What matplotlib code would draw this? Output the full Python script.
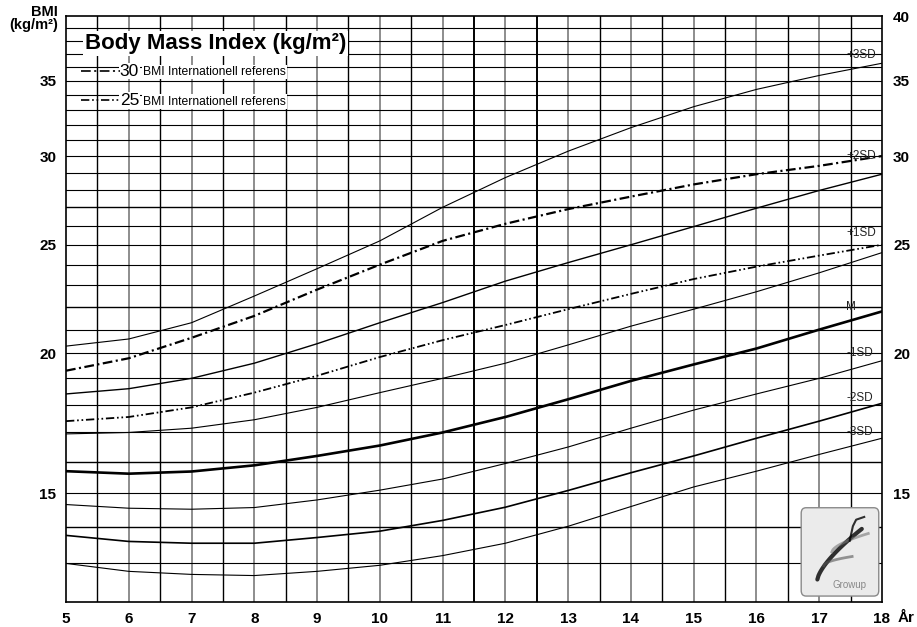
import numpy as np
import matplotlib
matplotlib.use("Agg")
import matplotlib.pyplot as plt
from matplotlib.patches import FancyBboxPatch
from matplotlib.ticker import NullLocator, FixedLocator, FixedFormatter

plt.rcParams['font.family'] = ['Liberation Sans', 'DejaVu Sans']
plt.rcParams['lines.scale_dashes'] = False

# ages (years)
ages = [5, 6, 7, 8, 9, 10, 11, 12, 13, 14, 15, 16, 17, 18]

# BMI reference curves
sd_p3 = [20.3, 20.6, 21.3, 22.5, 23.8, 25.2, 27.0, 28.7, 30.3, 31.8, 33.2, 34.4, 35.4, 36.3]
sd_p2 = [18.4, 18.6, 19.0, 19.6, 20.4, 21.3, 22.2, 23.2, 24.1, 25.0, 25.95, 26.95, 27.95, 28.9]
sd_p1 = [16.95, 17.0, 17.15, 17.45, 17.9, 18.45, 19.0, 19.6, 20.35, 21.15, 21.9, 22.7, 23.6, 24.6]
median = [15.7, 15.62, 15.69, 15.89, 16.2, 16.55, 17.0, 17.55, 18.2, 18.9, 19.55, 20.2, 21.0, 21.8]
sd_m1 = [14.66, 14.55, 14.52, 14.57, 14.8, 15.1, 15.45, 15.95, 16.5, 17.15, 17.8, 18.4, 19.0, 19.7]
sd_m2 = [13.76, 13.59, 13.54, 13.54, 13.7, 13.88, 14.19, 14.58, 15.09, 15.65, 16.2, 16.8, 17.4, 18.05]
sd_m3 = [12.99, 12.78, 12.70, 12.67, 12.78, 12.94, 13.2, 13.54, 14.02, 14.6, 15.2, 15.7, 16.25, 16.8]

# international cut-offs (BMI 30 and 25 at 18 years)
iotf_30 = [19.3, 19.8, 20.65, 21.6, 22.8, 24.0, 25.2, 26.1, 26.9, 27.6, 28.3, 28.9, 29.4, 30.0]
iotf_25 = [17.4, 17.55, 17.9, 18.45, 19.1, 19.85, 20.55, 21.2, 21.9, 22.6, 23.3, 23.9, 24.45, 25.0]

sd_labels = ['+3SD', '+2SD', '+1SD', 'M', '-1SD', '-2SD', '-3SD']
sd_label_y = [36.9, 30.0, 25.6, 22.0, 20.0, 18.25, 17.0]

left_ticks = [15, 20, 25, 30, 35]
right_ticks = [15, 20, 25, 30, 35, 40]
x_ticks = list(range(5, 19))

fig = plt.figure(figsize=(9.17, 6.27), dpi=100)
ax = fig.add_axes([66 / 917, 1 - 602 / 627, 816 / 917, 586 / 627])
ax.set_yscale('log')
ax.set_xlim(5, 18)
ax.set_ylim(12, 40)

# grid
for v in np.arange(5.5, 18, 0.5):
    if v in (11.5, 12.5):
        ax.axvline(v, color='black', lw=1.4, zorder=1)
    elif v == int(v):
        ax.axvline(v, color='#7a7a7a', lw=1.2, zorder=1)
    else:
        ax.axvline(v, color='black', lw=1.0, zorder=1)
for h in range(13, 40):
    ax.axhline(h, color='black', lw=1.0 if h in (14, 16, 22, 27) else 0.8, zorder=1)

# curves
ax.plot(ages, sd_p3, color='black', lw=0.8, zorder=3)
ax.plot(ages, sd_p2, color='black', lw=1.0, zorder=3)
ax.plot(ages, sd_p1, color='black', lw=0.8, zorder=3)
ax.plot(ages, median, color='black', lw=1.9, zorder=3)
ax.plot(ages, sd_m1, color='black', lw=0.8, zorder=3)
ax.plot(ages, sd_m2, color='black', lw=1.2, zorder=3)
ax.plot(ages, sd_m3, color='black', lw=0.8, zorder=3)
l30, = ax.plot(ages, iotf_30, color='black', lw=1.6, zorder=3)
l30.set_dashes([7, 2.5, 1.5, 2.5])
l25, = ax.plot(ages, iotf_25, color='black', lw=1.3, zorder=3)
l25.set_dashes([6, 2, 1.2, 2, 1.2, 2])

for lab, yy in zip(sd_labels, sd_label_y):
    ax.text(17.43, yy, lab, fontsize=8.5, color='#222222', ha='left', va='center', zorder=4)

# title and legend
ax.text(0.023, 0.953, 'Body Mass Index (kg/m²)', transform=ax.transAxes, fontsize=16,
        fontweight='bold', va='center', ha='left', zorder=5,
        bbox=dict(facecolor='white', edgecolor='none', pad=1.5))
for yy, big, dash in [(0.906, '30', [7, 2.5, 1.5, 2.5]), (0.856, '25', [6, 2, 1.2, 2, 1.2, 2])]:
    ax.text(0.066, yy, big, transform=ax.transAxes, fontsize=12.5, va='center', ha='left',
            zorder=5, bbox=dict(facecolor='white', edgecolor='none', pad=0.5))
    ax.text(0.094, yy - 0.002, 'BMI Internationell referens', transform=ax.transAxes, fontsize=8.7,
            va='center', ha='left', zorder=5, bbox=dict(facecolor='white', edgecolor='none', pad=0.8))
    ln, = ax.plot([0.018, 0.066], [yy, yy], transform=ax.transAxes, color='black',
                  lw=1.2, zorder=6)
    ln.set_dashes(dash)

# ticks
ax.yaxis.set_minor_locator(NullLocator())
ax.yaxis.set_major_locator(FixedLocator(left_ticks))
ax.yaxis.set_major_formatter(FixedFormatter([str(t) for t in left_ticks]))
ax.set_xticks(x_ticks)
ax.set_xticklabels([str(t) for t in x_ticks])
ax.tick_params(length=0, labelsize=11, pad=7)
for t in ax.get_xticklabels() + ax.get_yticklabels():
    t.set_fontweight('bold')

ax2 = ax.twinx()
ax2.set_yscale('log')
ax2.set_ylim(12, 40)
ax2.yaxis.set_minor_locator(NullLocator())
ax2.yaxis.set_major_locator(FixedLocator(right_ticks))
ax2.yaxis.set_major_formatter(FixedFormatter([str(t) for t in right_ticks]))
ax2.tick_params(length=0, labelsize=11, pad=8)
for t in ax2.get_yticklabels():
    t.set_fontweight('bold')
for s in ax2.spines.values():
    s.set_visible(False)
for s in ax.spines.values():
    s.set_linewidth(1.2)

ax.text(1.0195, -0.027, 'År', transform=ax.transAxes, fontsize=11, fontweight='bold',
        ha='left', va='center')
fig.text(0.063, 0.992, 'BMI\n(kg/m²)', fontsize=10.5, fontweight='bold', ha='right',
         va='top', linespacing=0.95, multialignment='right')

# Growup logo
lg = ax.inset_axes([0.899, 0.007, 0.099, 0.157])
lg.set_xlim(0, 1)
lg.set_ylim(0, 1)
lg.axis('off')
lg.add_patch(FancyBboxPatch((0.02, 0.02), 0.96, 0.96, boxstyle='round,pad=0,rounding_size=0.06',
                            facecolor='#ebebeb', edgecolor='#8a8a8a', lw=1.0))
t = np.linspace(0, 1, 40)
lg.plot(0.22 + 0.55 * t, 0.2 + 0.55 * t ** 0.7, color='black', lw=3.0, alpha=0.8,
        solid_capstyle='round')
lg.plot(0.4 + 0.45 * t, 0.5 + 0.2 * t ** 0.6, color='#777777', lw=2.0, alpha=0.6)
lg.plot(0.3 + 0.35 * t, 0.35 + 0.1 * t ** 0.5, color='#555555', lw=2.0, alpha=0.6)
lg.plot([0.62, 0.66, 0.7, 0.8], [0.62, 0.78, 0.85, 0.88], color='black', lw=1.5, alpha=0.8)
lg.text(0.62, 0.14, 'Growup', color='#888888', fontsize=7, ha='center', va='center')

fig.savefig('out.png', dpi=100)
